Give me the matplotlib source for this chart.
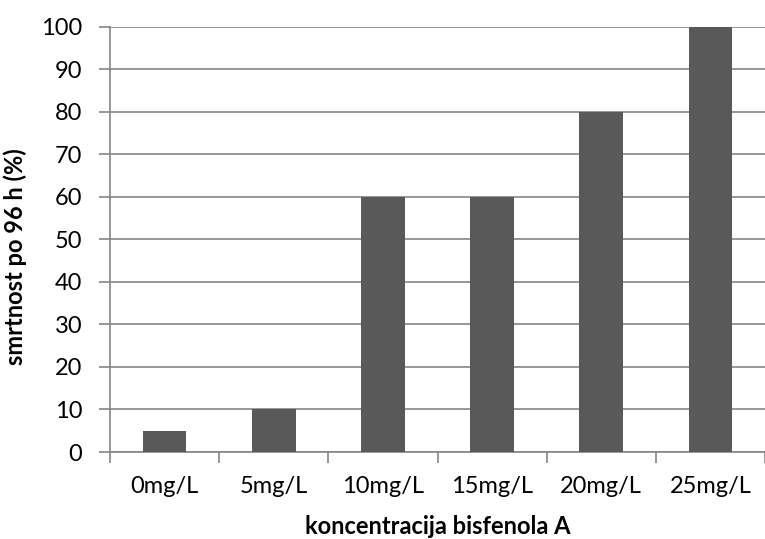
import matplotlib.pyplot as plt

categories = ['0mg/L', '5mg/L', '10mg/L', '15mg/L', '20mg/L', '25mg/L']
mortality = [5, 10, 60, 60, 80, 100]
yticks = [0, 10, 20, 30, 40, 50, 60, 70, 80, 90, 100]

plt.rcParams['font.family'] = ['Lato', 'DejaVu Sans']

fig = plt.figure(figsize=(7.65, 5.39), dpi=100)
ax = fig.add_axes([0.1438, 0.1614, 0.8562, 0.7886])

grid_col = '#868686'
x = list(range(len(categories)))
ax.bar(x, mortality, width=0.4, color='#595959', zorder=3)

ax.set_xlim(-0.5, len(categories) - 0.5)
ax.set_ylim(0, 100)
ax.set_yticks(yticks)
ax.set_xticks([i - 0.5 for i in range(len(categories) + 1)], minor=False)
ax.set_xticklabels([])
ax.set_xticks(x, minor=True)
ax.set_xticklabels(categories, minor=True)
ax.tick_params(axis='x', which='major', length=8, color=grid_col, width=1.2)
ax.tick_params(axis='x', which='minor', length=0, pad=17, labelsize=17)
ax.tick_params(axis='y', length=8, color=grid_col, width=1.2, labelsize=17, pad=12)

ax.yaxis.grid(True, color=grid_col, linewidth=1.2, zorder=0)
for s in ['top', 'right']:
    ax.spines[s].set_visible(False)
for s in ['left', 'bottom']:
    ax.spines[s].set_color(grid_col)
    ax.spines[s].set_linewidth(1.2)

ax.set_ylabel('smrtnost po 96 h (%)', fontsize=17, fontweight='bold', labelpad=10)
ax.yaxis.label.set_y(0.46)
ax.set_xlabel('koncentracija bisfenola A', fontsize=17, fontweight='bold', labelpad=13)

fig.savefig('out.png', dpi=100)
